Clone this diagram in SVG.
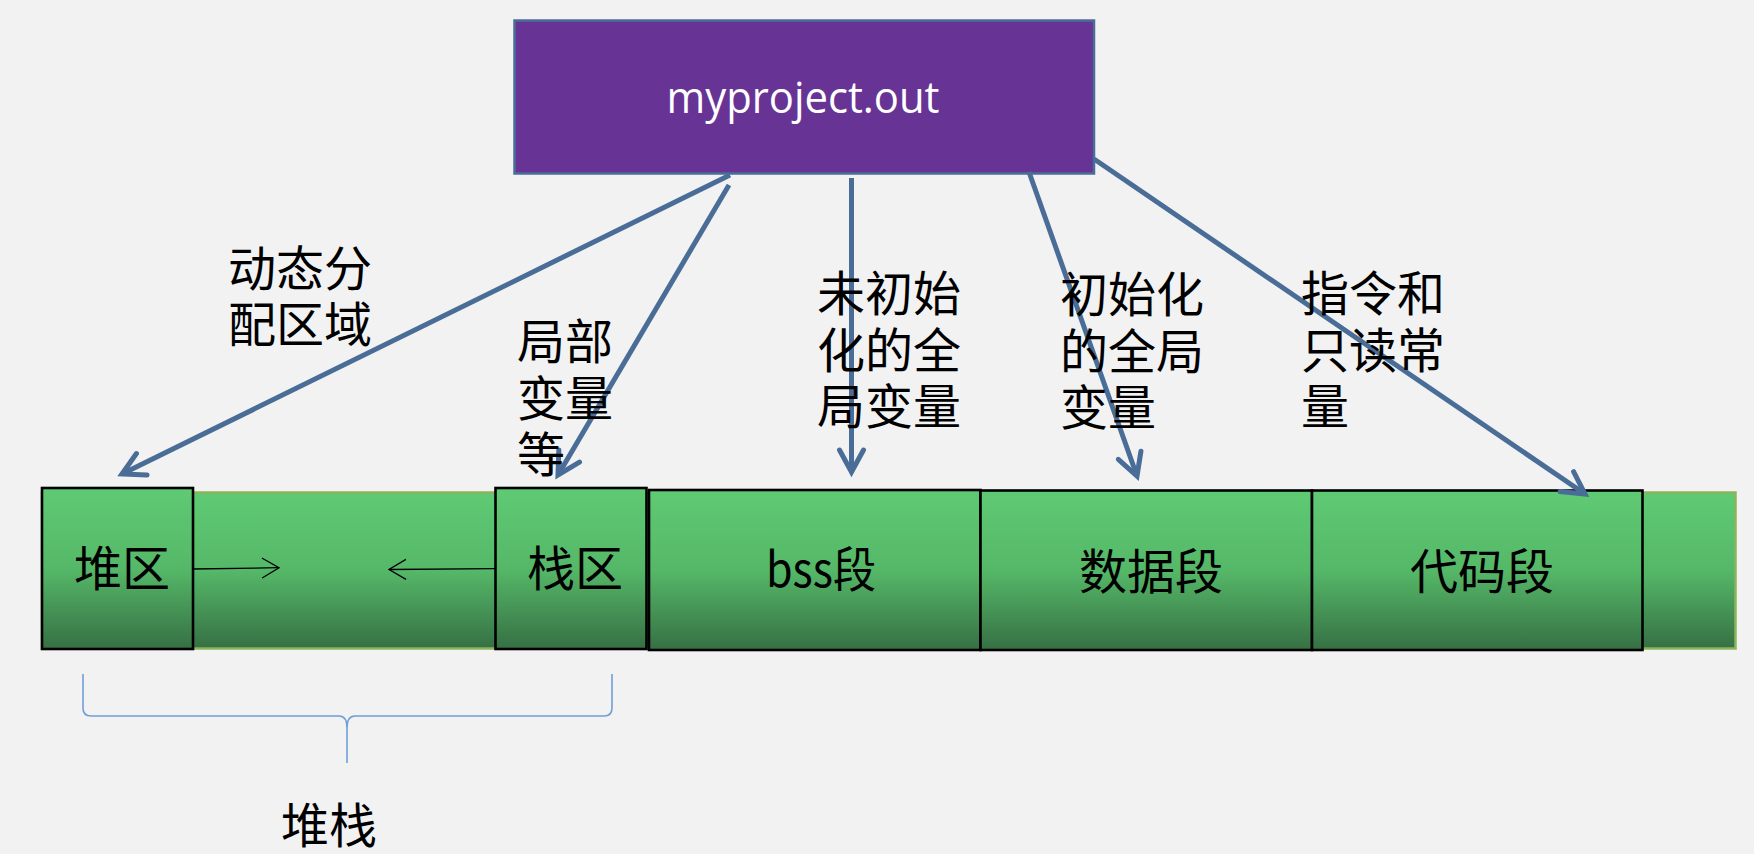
<svg xmlns="http://www.w3.org/2000/svg" width="1754" height="854" viewBox="0 0 1754 854">
<style>
.cjk{font-family:"Noto Sans CJK SC","Noto Sans",sans-serif;font-size:48px;fill:#000}
.box{stroke:#000;stroke-width:2.6}
.conn{stroke:#4a6d98;stroke-width:5;fill:none}
.thin{stroke:#000;stroke-width:1.3;fill:none}
</style>
<defs>
<linearGradient id="g" x1="0" y1="0" x2="0" y2="1">
<stop offset="0" stop-color="#5fca74"/>
<stop offset="0.5" stop-color="#55b868"/>
<stop offset="1" stop-color="#367044"/>
</linearGradient>
<marker id="ah" markerUnits="userSpaceOnUse" viewBox="-4 -4 34 32" markerWidth="34" markerHeight="32" refX="22" refY="12" orient="auto" overflow="visible">
<path d="M0,0 L22,12 L0,24" fill="none" stroke="#4a6d98" stroke-width="5" stroke-linejoin="miter" stroke-linecap="round"/>
</marker>
<marker id="th" markerUnits="userSpaceOnUse" viewBox="-2 -2 22 24" markerWidth="22" markerHeight="24" refX="17" refY="10" orient="auto" overflow="visible">
<path d="M0,0 L17,10 L0,20" fill="none" stroke="#000" stroke-width="1.3"/>
</marker>
</defs>
<rect width="1754" height="854" fill="#f2f2f2"/>

<g id="band">
<rect x="42" y="492.5" width="1693.5" height="156" fill="url(#g)" stroke="#8db45a" stroke-width="2.5"/>
</g>

<g id="root">
<rect x="514.5" y="20.5" width="579.5" height="153" fill="#673496" stroke="#4a6d98" stroke-width="2.5"/>
<text x="803" y="113" text-anchor="middle" font-family="'Open Sans',sans-serif" font-size="44" fill="#fff" textLength="273" lengthAdjust="spacingAndGlyphs">myproject.out</text>
</g>

<g id="heap">
<rect class="box" x="42" y="488" width="151" height="161" fill="url(#g)"/>
<text class="cjk" x="122" y="586" text-anchor="middle">堆区</text>
</g>

<g id="stack">
<rect class="box" x="495.5" y="488" width="151" height="161" fill="url(#g)"/>
<text class="cjk" x="575" y="586" text-anchor="middle">栈区</text>
</g>

<g id="bss">
<rect class="box" x="649" y="490" width="331.5" height="160" fill="url(#g)"/>
<text class="cjk" x="821" y="587" text-anchor="middle" textLength="110" lengthAdjust="spacingAndGlyphs">bss段</text>
</g>

<g id="data">
<rect class="box" x="980.5" y="490.5" width="331.5" height="159.5" fill="url(#g)"/>
<text class="cjk" x="1151" y="589" text-anchor="middle">数据段</text>
</g>

<g id="code">
<rect class="box" x="1312" y="490.5" width="330.5" height="159.5" fill="url(#g)"/>
<text class="cjk" x="1482" y="589" text-anchor="middle">代码段</text>
</g>

<g id="connectors">
<line class="conn" x1="730" y1="175" x2="122" y2="474" marker-end="url(#ah)"/>
<line class="conn" x1="729" y1="185" x2="558" y2="475" marker-end="url(#ah)"/>
<line class="conn" x1="851.5" y1="178" x2="851.5" y2="472" marker-end="url(#ah)"/>
<line class="conn" x1="1029" y1="172" x2="1137" y2="476" marker-end="url(#ah)"/>
<line class="conn" x1="1094" y1="159" x2="1585" y2="494" marker-end="url(#ah)"/>
<line class="thin" x1="193" y1="569" x2="279" y2="567.7" marker-end="url(#th)"/>
<line class="thin" x1="495.5" y1="568.7" x2="389" y2="569.5" marker-end="url(#th)"/>
</g>

<g id="labels">
<text class="cjk" x="228" y="286"><tspan x="228">动态分</tspan><tspan x="228" dy="56">配区域</tspan></text>
<text class="cjk" x="517" y="359"><tspan x="517">局部</tspan><tspan x="517" dy="56.5">变量</tspan><tspan x="517" dy="56.5">等</tspan></text>
<text class="cjk" x="817" y="311"><tspan x="817">未初始</tspan><tspan x="817" dy="56.5">化的全</tspan><tspan x="817" dy="56.5">局变量</tspan></text>
<text class="cjk" x="1060" y="312"><tspan x="1060">初始化</tspan><tspan x="1060" dy="56.5">的全局</tspan><tspan x="1060" dy="56.5">变量</tspan></text>
<text class="cjk" x="1301" y="311"><tspan x="1301">指令和</tspan><tspan x="1301" dy="56.5">只读常</tspan><tspan x="1301" dy="56.5">量</tspan></text>
</g>

<g id="brace">
<path d="M83,674 V708 Q83,716 91,716 H339 Q347,716 347,728 V763 M347,728 Q347,716 355,716 H604 Q612,716 612,708 V674" fill="none" stroke="#6f9fd8" stroke-width="1.6"/>
<text class="cjk" x="329" y="843" text-anchor="middle">堆栈</text>
</g>
</svg>
